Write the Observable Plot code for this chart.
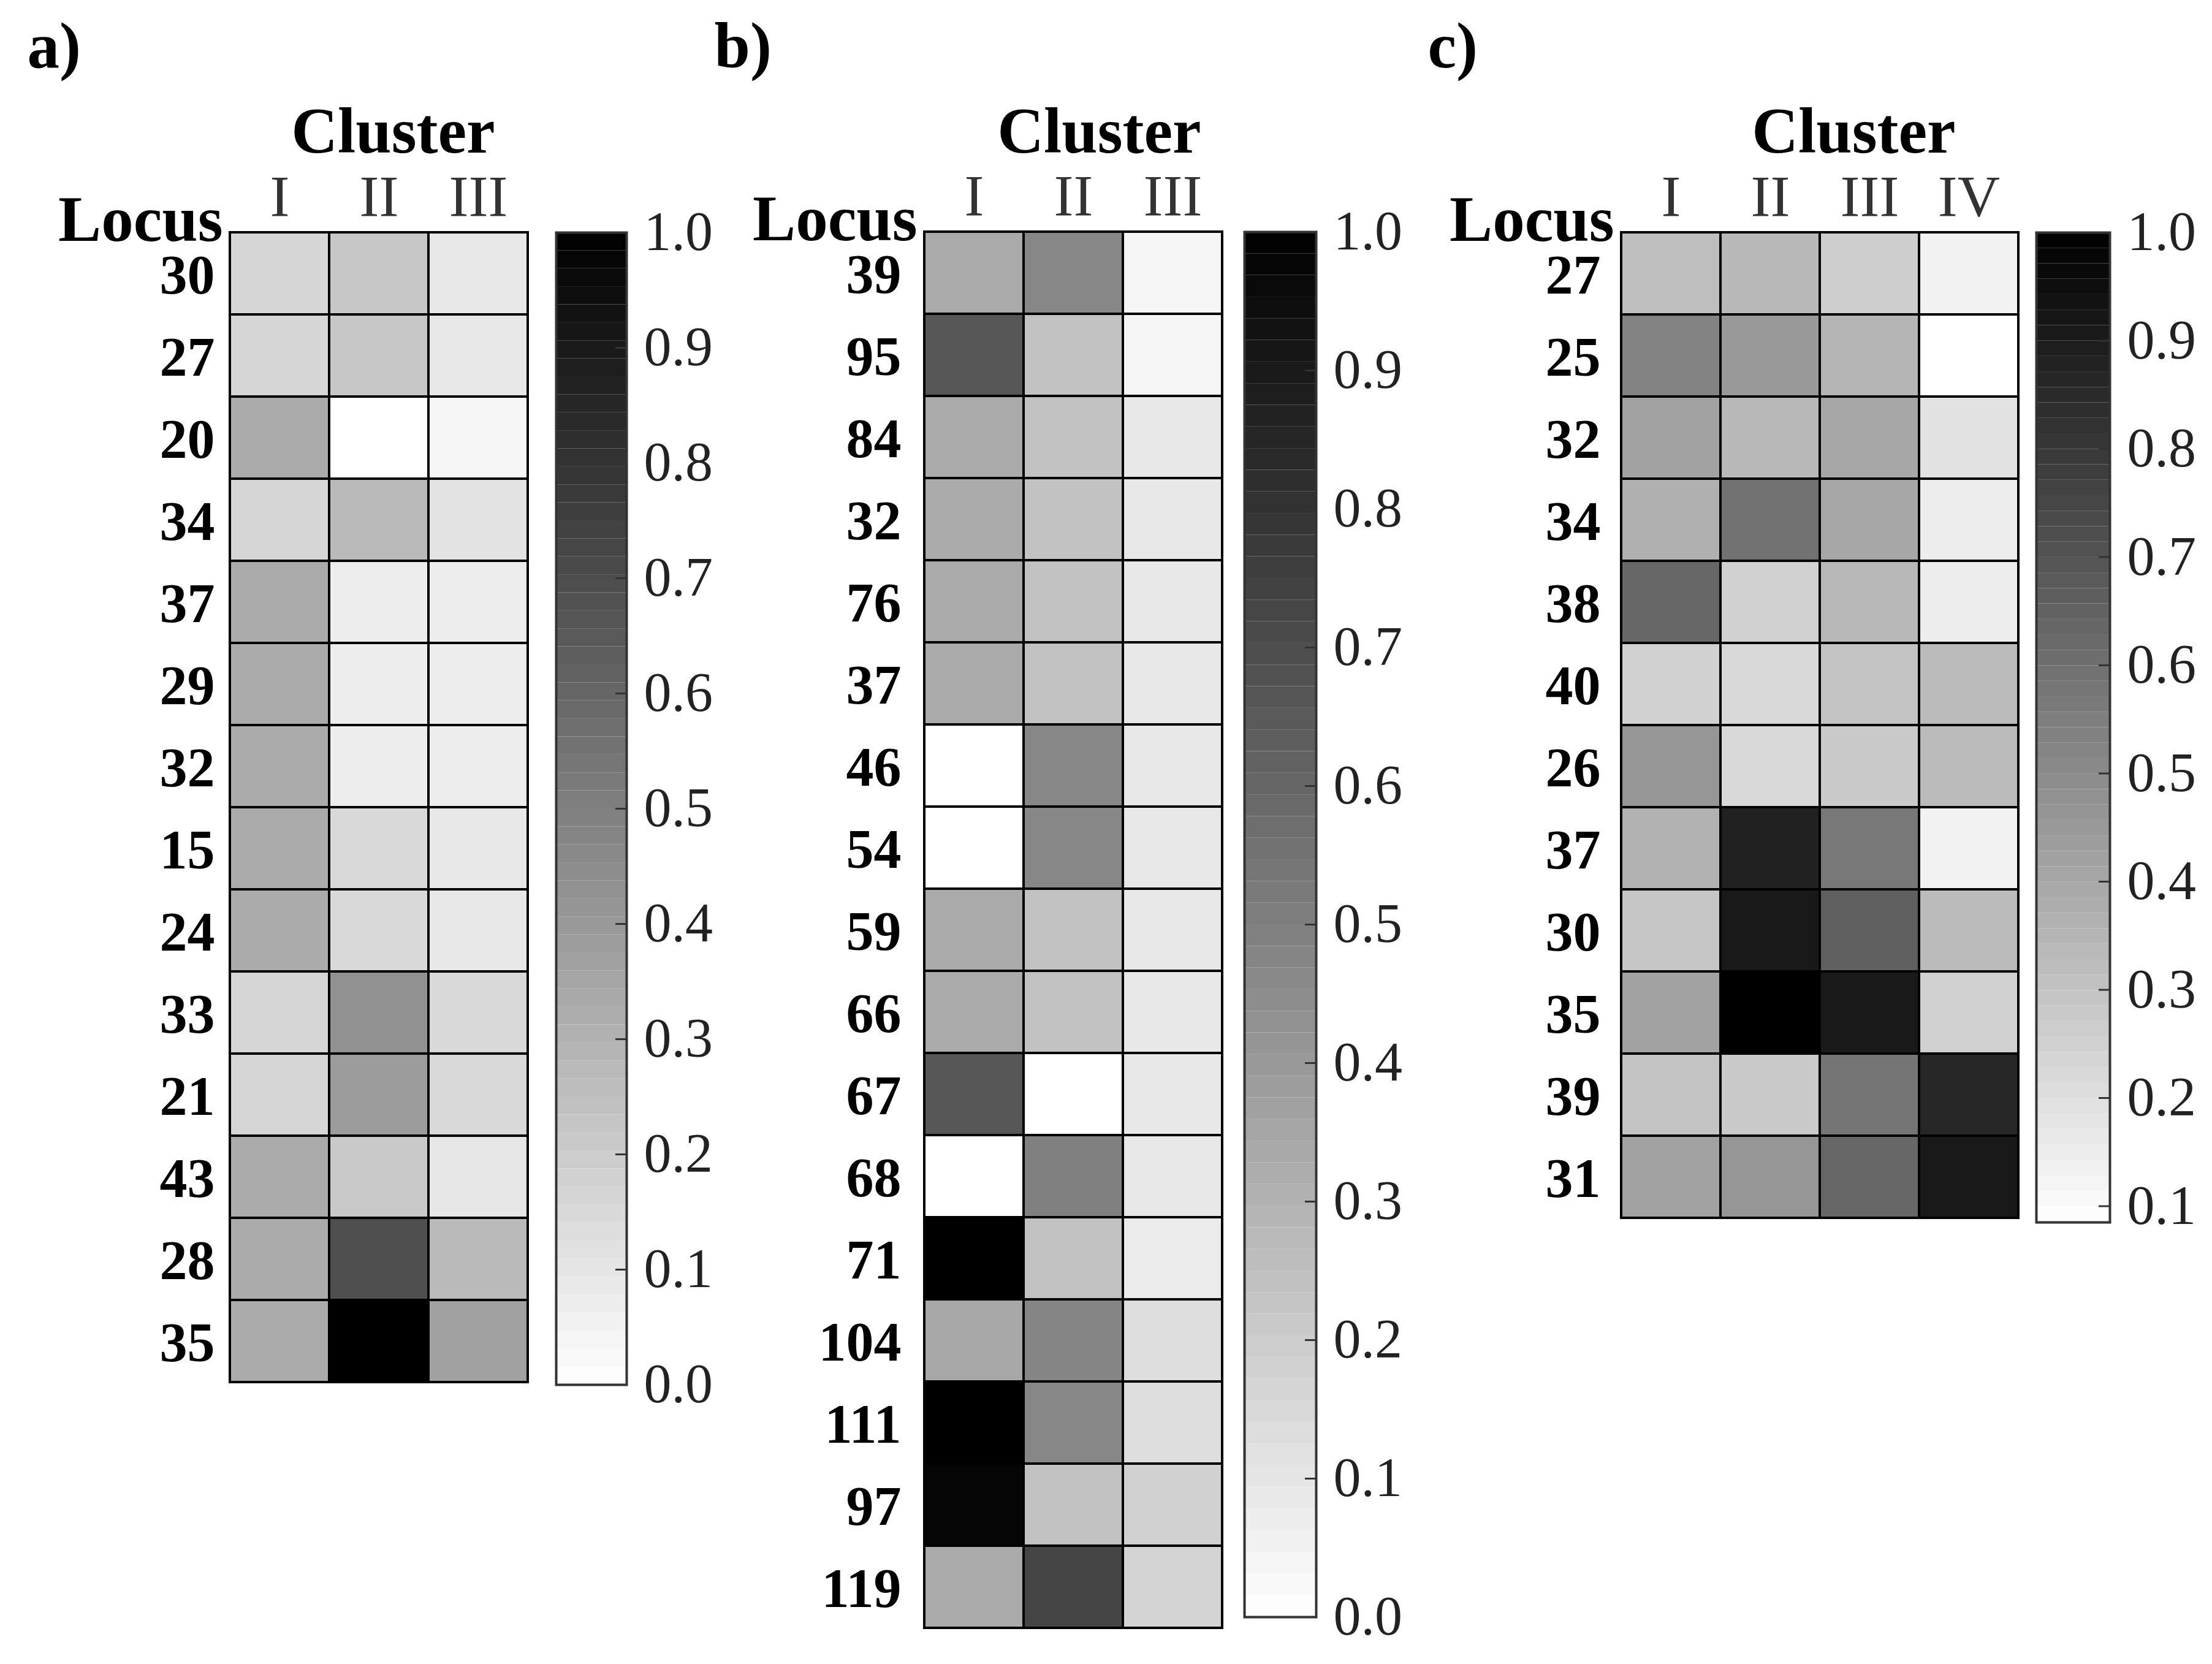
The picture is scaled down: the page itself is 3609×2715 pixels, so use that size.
<!DOCTYPE html>
<html><head><meta charset="utf-8">
<script src="https://cdn.jsdelivr.net/npm/d3@7"></script>
<script src="https://cdn.jsdelivr.net/npm/@observablehq/plot@0.6"></script>
<style>
html,body{margin:0;padding:0;background:#fff;overflow:hidden;}
#fig{position:relative;width:3609px;height:2715px;background:#fff;}
#fig svg{position:absolute;left:0;top:0;}
</style></head><body><div id="fig"></div>
<script>
// ---------- data ----------
const clustersA = ["I", "II", "III"];
const lociA = ["30","27","20","34","37","29","32","15","24","33","21","43","28","35"];
const valuesA = [
  [0.16, 0.22, 0.09],
  [0.16, 0.22, 0.09],
  [0.33, 0.00, 0.04],
  [0.16, 0.27, 0.11],
  [0.33, 0.07, 0.07],
  [0.33, 0.07, 0.07],
  [0.33, 0.07, 0.07],
  [0.33, 0.15, 0.09],
  [0.33, 0.15, 0.09],
  [0.16, 0.43, 0.15],
  [0.16, 0.39, 0.15],
  [0.33, 0.21, 0.10],
  [0.33, 0.69, 0.27],
  [0.33, 1.00, 0.37]
];
const colorDomainA = [0, 1];
const ticksA = [0.0, 0.1, 0.2, 0.3, 0.4, 0.5, 0.6, 0.7, 0.8, 0.9, 1.0];

const clustersB = ["I", "II", "III"];
const lociB = ["39","95","84","32","76","37","46","54","59","66","67","68","71","104","111","97","119"];
const valuesB = [
  [0.33, 0.47, 0.04],
  [0.66, 0.24, 0.04],
  [0.33, 0.24, 0.09],
  [0.33, 0.24, 0.09],
  [0.33, 0.24, 0.09],
  [0.33, 0.24, 0.09],
  [0.00, 0.47, 0.09],
  [0.00, 0.47, 0.09],
  [0.33, 0.24, 0.09],
  [0.33, 0.24, 0.09],
  [0.66, 0.00, 0.09],
  [0.00, 0.50, 0.09],
  [1.00, 0.24, 0.08],
  [0.34, 0.48, 0.13],
  [1.00, 0.47, 0.13],
  [0.98, 0.24, 0.18],
  [0.33, 0.73, 0.17]
];
const colorDomainB = [0, 1];
const ticksB = [0.0, 0.1, 0.2, 0.3, 0.4, 0.5, 0.6, 0.7, 0.8, 0.9, 1.0];

const clustersC = ["I", "II", "III", "IV"];
const lociC = ["27","25","32","34","38","40","26","37","30","35","39","31"];
const valuesC = [
  [0.32, 0.34, 0.26, 0.13],
  [0.53, 0.45, 0.35, 0.085],
  [0.42, 0.34, 0.40, 0.19],
  [0.37, 0.59, 0.40, 0.15],
  [0.63, 0.25, 0.34, 0.15],
  [0.25, 0.22, 0.30, 0.33],
  [0.46, 0.22, 0.28, 0.33],
  [0.36, 0.88, 0.57, 0.13],
  [0.29, 0.91, 0.66, 0.33],
  [0.42, 1.00, 0.91, 0.25],
  [0.30, 0.28, 0.58, 0.86],
  [0.42, 0.46, 0.63, 0.91]
];
const colorDomainC = [0.085, 1];
const ticksC = [0.1, 0.2, 0.3, 0.4, 0.5, 0.6, 0.7, 0.8, 0.9, 1.0];

const panelLetters = ["a)", "b)", "c)"];
const rowTitle = "Locus";
const colTitle = "Cluster";

// ---------- layout (page pixels) ----------
const W = 3609, H = 2715;
const FONT = "'Liberation Serif', 'Times New Roman', serif";
const layout = [
  {grid: [375, 861, 379, 2255], bar: [907, 1022, 379, 2259], letterX: 44, rowGap: 25, clusterDx: 23},
  {grid: [1508, 1994, 378, 2656], bar: [2030, 2147, 378, 2638], letterX: 1165, rowGap: 38, clusterDx: 42},
  {grid: [2645, 3293, 379, 1987], bar: [3322, 3442, 379, 1994], letterX: 2329, rowGap: 34, clusterDx: 55}
];
const panels = [
  {clusters: clustersA, loci: lociA, values: valuesA, domain: colorDomainA, ticks: ticksA},
  {clusters: clustersB, loci: lociB, values: valuesB, domain: colorDomainB, ticks: ticksB},
  {clusters: clustersC, loci: lociC, values: valuesC, domain: colorDomainC, ticks: ticksC}
];

const fig = document.getElementById("fig");

panels.forEach((p, i) => {
  const L = layout[i];
  const [gx0, gx1, gy0, gy1] = L.grid;
  const table = [];
  p.loci.forEach((locus, r) => p.clusters.forEach((cluster, c) => {
    table.push({locus, cluster, value: p.values[r][c]});
  }));

  const heat = Plot.plot({
    width: W, height: H,
    marginLeft: gx0, marginRight: W - gx1, marginTop: gy0, marginBottom: H - gy1,
    style: {background: "transparent", overflow: "visible", fontFamily: FONT},
    x: {type: "band", domain: p.clusters, padding: 0},
    y: {type: "band", domain: p.loci, padding: 0},
    color: {type: "linear", domain: p.domain, range: ["white", "black"], clamp: true},
    marks: [
      Plot.cell(table, {x: "cluster", y: "locus", fill: "value", stroke: "black", strokeWidth: 4}),
      Plot.axisX({anchor: "top", tickSize: 0, tickPadding: 27, fontSize: 96, fill: "#333", label: null}),
      Plot.axisY({anchor: "left", tickSize: 0, tickPadding: L.rowGap, fontSize: 90, fontWeight: "bold", fill: "black", dy: 4, label: null}),
      Plot.text([rowTitle], {text: d => d, frameAnchor: "top-left", textAnchor: "end", lineAnchor: "bottom",
        dx: -12, dy: 13, fontSize: 105, fontWeight: "bold", fill: "black"}),
      Plot.text([colTitle], {text: d => d, frameAnchor: "top", textAnchor: "middle", lineAnchor: "bottom",
        dx: L.clusterDx, dy: 248 - gy0, fontSize: 105, fontWeight: "bold", fill: "black"}),
      Plot.text([panelLetters[i]], {text: d => d, frameAnchor: "top-left", textAnchor: "start", lineAnchor: "bottom",
        dx: L.letterX - gx0, dy: 109 - gy0, fontSize: 105, fontWeight: "bold", fill: "black"})
    ]
  });
  fig.appendChild(heat);

  const [bx0, bx1, by0, by1] = L.bar;
  const [lo, hi] = p.domain;
  const nBands = 64;
  const ramp = d3.range(nBands).map(k => ({
    y1: lo + (hi - lo) * k / nBands,
    y2: lo + (hi - lo) * (k + 1) / nBands,
    mid: lo + (hi - lo) * (k + 0.5) / nBands
  }));
  const bar = Plot.plot({
    width: W, height: H,
    marginLeft: bx0, marginRight: W - bx1, marginTop: by0, marginBottom: H - by1,
    style: {background: "transparent", overflow: "visible", fontFamily: FONT},
    y: {type: "linear", domain: p.domain},
    color: {type: "linear", domain: p.domain, range: ["white", "black"]},
    marks: [
      Plot.rect(ramp, {y1: "y1", y2: "y2", fill: "mid"}),
      Plot.ruleY(p.ticks, {y: d => d, insetLeft: (bx1 - bx0) - 18, stroke: "#333", strokeWidth: 3}),
      Plot.frame({stroke: "#333", strokeWidth: 4}),
      Plot.axisY(p.ticks, {anchor: "right", tickSize: 0, tickPadding: 28, tickFormat: d3.format(".1f"),
        fontSize: 90, fill: "#222", label: null})
    ]
  });
  fig.appendChild(bar);
});
</script>
</body></html>
